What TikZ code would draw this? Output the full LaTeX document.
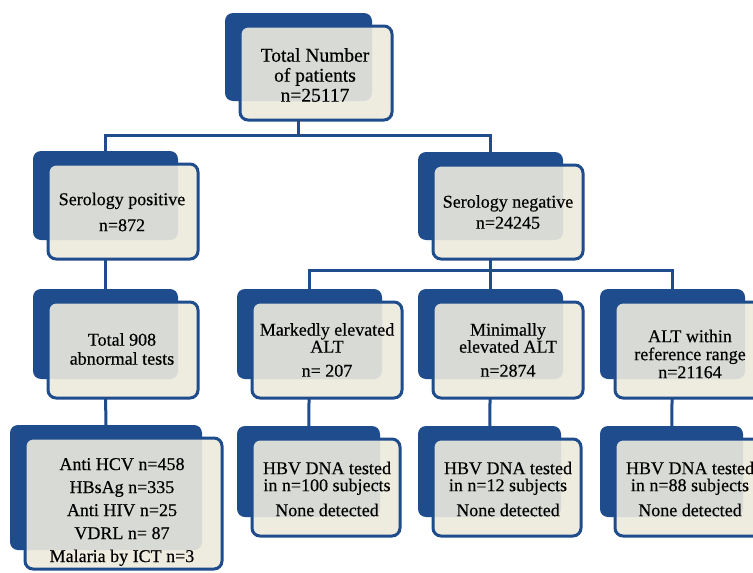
\documentclass[tikz,border=0pt]{standalone}
\usepackage{fontspec}
\setmainfont[FakeBold=0.4]{Liberation Serif}
\definecolor{boxblue}{RGB}{30,76,140}
\definecolor{overlapgray}{RGB}{216,218,214}
\definecolor{creamfill}{RGB}{238,235,223}
\pgfdeclarelayer{backdrop}
\pgfdeclarelayer{bg}
\pgfsetlayers{backdrop,bg,main}
\tikzset{
  backbox/.style={rectangle, fill=boxblue, draw=none, rounded corners=8pt, inner sep=0pt, outer sep=0pt},
  frontfill/.style={rectangle, fill=creamfill, draw=none, rounded corners=8pt, inner sep=0pt, outer sep=0pt},
  frontline/.style={draw=boxblue, line width=3pt, rounded corners=8pt},
  conn/.style={draw=boxblue, line width=3pt},
  txt/.style={align=center, font=\fontsize{18}{17}\selectfont, text=black, inner sep=0pt},
  bigtxt/.style={txt, font=\fontsize{19.5}{20}\selectfont},
}
% name, x, y (top-left of back box), width, height of back box
\newcommand\layerbox[5]{%
  \node[backbox, minimum width=#4pt, minimum height=#5pt, anchor=north west] (#1b) at (#2,#3) {};
  \node[frontfill, minimum width=#4pt+5pt, minimum height=#5pt+6pt, anchor=north west] (#1) at (#2+15,#3+13) {};
  \begin{scope}
    \clip[rounded corners=8pt] (#1.north west) rectangle (#1.south east);
    \fill[overlapgray, rounded corners=8pt] (#1b.north west) rectangle (#1b.south east);
  \end{scope}
  \draw[frontline] (#1.north west) rectangle (#1.south east);
}
\begin{document}
\begin{tikzpicture}[x=1pt,y=-1pt]
\useasboundingbox (0,0) rectangle (753,573);
\begin{pgfonlayer}{backdrop}
  \fill[white] (0,0) rectangle (753,573);
\end{pgfonlayer}
\clip (0,0) rectangle (753,573);

\layerbox{top}{225}{13}{147}{88}
\layerbox{pos}{33}{151}{145}{89}
\layerbox{neg}{418}{152}{145}{88}
\layerbox{tot}{33}{289}{145}{90}
\layerbox{mark}{237}{289}{145}{90}
\layerbox{min}{418}{289}{145}{90}
\layerbox{alt}{600}{289}{145}{90}
\layerbox{lab}{10}{425}{192}{125}
\layerbox{hbva}{237}{426}{143}{91}
\layerbox{hbvb}{418}{426}{143}{91}
\layerbox{hbvc}{600}{426}{143}{91}

\node[bigtxt] (topt) at (315,75) {Total Number\\of patients\\n=25117};
\node[txt] (post) at (122,212) {Serology positive\\[9pt]n=872};
\node[txt] (negt) at (508,212) {Serology negative\\[4pt]n=24245};
\node[txt] (tott) at (122,349) {Total 908\\[2pt]abnormal tests};
\node[txt] (markt) at (327,350) {Markedly elevated\\ALT\\[7pt]n= 207};
\node[txt] (mint) at (508,350) {Minimally\\elevated ALT\\[7pt]n=2874};
\node[txt] (altt) at (690,354) {ALT within\\[1pt]reference range\\[1pt]n=21164};
\node[txt, font=\fontsize{18}{23}\selectfont] (labt) at (122,512) {Anti HCV n=458\\HBsAg n=335\\Anti HIV n=25\\VDRL n= 87\\Malaria by ICT n=3};
\node[txt] (hbvat) at (327,489) {HBV DNA tested\\in n=100 subjects\\[8pt]None detected};
\node[txt] (hbvbt) at (508,489) {HBV DNA tested\\in n=12 subjects\\[8pt]None detected};
\node[txt] (hbvct) at (690,489) {HBV DNA tested\\in n=88 subjects\\[8pt]None detected};

\coordinate (bus1) at (0,135);
\coordinate (bus2) at (0,270);
\begin{pgfonlayer}{bg}
  \draw[conn] (topb.center) -- (topb.center |- bus1);
  \draw[conn] (posb.center) -- (posb.center |- bus1) -- (negb.center |- bus1) -- (negb.center);
  \draw[conn] (posb.center) -- (totb.center);
  \draw[conn] (totb.center) -- (labb.center);
  \draw[conn] (negb.center) -- (negb.center |- bus2);
  \draw[conn] (markb.center) -- (markb.center |- bus2) -- (altb.center |- bus2) -- (altb.center);
  \draw[conn] (minb.center) -- (minb.center |- bus2);
  \draw[conn] (markb.center) -- (hbvab.center);
  \draw[conn] (minb.center) -- (hbvbb.center);
  \draw[conn] (altb.center) -- (hbvcb.center);
\end{pgfonlayer}
\end{tikzpicture}
\end{document}
